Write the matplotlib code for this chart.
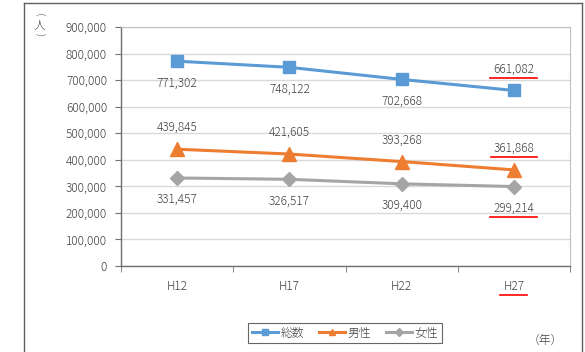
import matplotlib
matplotlib.use("Agg")
import matplotlib.pyplot as plt
from matplotlib.lines import Line2D

plt.rcParams['font.family'] = ['Noto Sans CJK JP', 'DejaVu Sans']
plt.rcParams['font.weight'] = 'light'

categories = ["H12", "H17", "H22", "H27"]
total = [771302, 748122, 702668, 661082]
male = [439845, 421605, 393268, 361868]
female = [331457, 326517, 309400, 299214]
series_names = ["総数", "男性", "女性"]
yticks = list(range(0, 900001, 100000))

W, H = 585, 352
fig = plt.figure(figsize=(W / 100, H / 100), dpi=100)
ax = fig.add_axes([121 / W, 1 - 266 / H, (570 - 121) / W, (266 - 27) / H])

x = list(range(len(categories)))
blue, orange, gray = "#5B9BD5", "#ED7D31", "#A5A5A5"
txtc = "#404040"

l1, = ax.plot(x, total, color=blue, lw=2.2, marker="s", ms=9, label=series_names[0], zorder=3)
l2, = ax.plot(x, male, color=orange, lw=2.2, marker="^", ms=10, label=series_names[1], zorder=3)
l3, = ax.plot(x, female, color=gray, lw=2.2, marker="D", ms=7.5, label=series_names[2], zorder=3)

ax.set_xlim(-0.5, len(categories) - 0.5)
ax.set_ylim(0, 900000)
ax.set_yticks(yticks)
ax.set_yticklabels([f"{v:,}" for v in yticks], fontsize=8.5, color=txtc)
ax.set_xticks(x)
ax.set_xticklabels(categories, fontsize=8.5, color=txtc)
ax.tick_params(axis='x', length=0, pad=10)
ax.set_xticks([i - 0.5 for i in range(len(categories) + 1)], minor=True)
ax.tick_params(axis='x', which='minor', length=4, color="#707070", direction='out')
ax.tick_params(axis='y', length=4, color="#707070", direction='out', pad=6)
ax.grid(axis='y', color="#D9D9D9", lw=1)
ax.set_axisbelow(True)
for s in ["top", "right"]:
    ax.spines[s].set_color("#BFBFBF")
    ax.spines[s].set_linewidth(0.8)
for s in ["left", "bottom"]:
    ax.spines[s].set_color("#707070")
    ax.spines[s].set_linewidth(1)

def lab(i, v, dy):
    return ax.annotate(f"{v:,}", (i, v), xytext=(0, dy), textcoords="offset points",
                       ha="center", va="center", fontsize=8.5, color=txtc)

red_targets = []
for i, v in enumerate(total):
    t = lab(i, v, 15 if i == 3 else -16)
    if i == 3:
        red_targets.append(t)
for i, v in enumerate(male):
    t = lab(i, v, 15.5)
    if i == 3:
        red_targets.append(t)
for i, v in enumerate(female):
    t = lab(i, v, -15.5)
    if i == 3:
        red_targets.append(t)

leg = fig.legend(handles=[l1, l2, l3], loc="center", bbox_to_anchor=(345 / W, 1 - 333 / H),
                 ncol=3, fontsize=8.5, frameon=True, fancybox=False, edgecolor="#404040",
                 handlelength=2.2, handletextpad=0.2, columnspacing=1.3, borderpad=0.3,
                 markerscale=0.5)
leg.get_frame().set_linewidth(0.8)
for t in leg.get_texts():
    t.set_color(txtc)

fig.text(39 / W, 1 - 15 / H, "(", ha="center", va="center", fontsize=8, color=txtc,
         rotation=-90, family="DejaVu Sans")
fig.text(39 / W, 1 - 25 / H, "人", ha="center", va="center", fontsize=8.5, color=txtc)
fig.text(39 / W, 1 - 35 / H, ")", ha="center", va="center", fontsize=8, color=txtc,
         rotation=-90, family="DejaVu Sans")
fig.text(545 / W, 1 - 340 / H, "（年）", ha="center", va="center", fontsize=8.5, color=txtc)

# outer frame
fig.add_artist(Line2D([24 / W, 24 / W], [0, 1 - 3 / H], transform=fig.transFigure, color="#606060", lw=1))
fig.add_artist(Line2D([24 / W, 582 / W], [1 - 3 / H, 1 - 3 / H], transform=fig.transFigure, color="#606060", lw=1))
fig.add_artist(Line2D([582 / W, 582 / W], [0, 1 - 3 / H], transform=fig.transFigure, color="#606060", lw=1))

fig.canvas.draw()
r = fig.canvas.get_renderer()
red_targets.append(ax.get_xticklabels()[3])
for t in red_targets:
    bb = t.get_window_extent(r)
    yy = bb.y0 - 2
    fig.add_artist(Line2D([(bb.x0 - 3) / W, (bb.x1 + 3) / W], [yy / H, yy / H],
                          transform=fig.transFigure, color="#FF0000", lw=1.2))

fig.savefig("out.png", dpi=100)
